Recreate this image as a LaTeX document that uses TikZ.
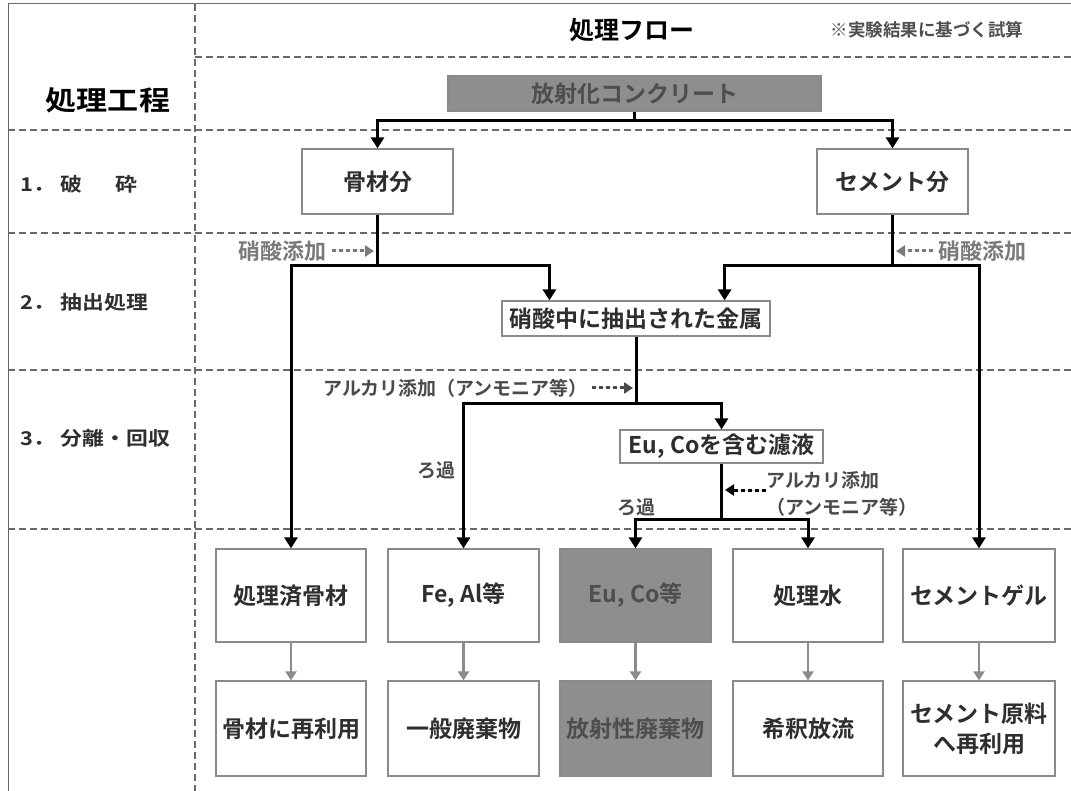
\documentclass[tikz,border=0pt]{standalone}
\usepackage{fontspec}
\setmainfont{Noto Sans CJK JP}[BoldFont={Noto Sans CJK JP Bold}]
\newfontfamily\widefont{Noto Sans CJK JP Bold}[FakeStretch=1.15]
\usetikzlibrary{arrows.meta,calc}
\definecolor{boxgray}{HTML}{8E8E8E}
\definecolor{boxborder}{HTML}{8A8A8A}
\definecolor{textdark}{HTML}{2E2E2E}
\definecolor{graytext}{HTML}{4E4E4E}
\definecolor{arrowgray}{HTML}{8C8C8C}
\definecolor{sepgray}{HTML}{6A6A6A}
\definecolor{labgray}{HTML}{7A7A7A}
\definecolor{labdark}{HTML}{4A4A4A}
\begin{document}
\begin{tikzpicture}[x=1pt,y=-1pt,
  box/.style={draw=boxborder, line width=1.2pt, fill=white, inner sep=0pt, text=textdark,
    font=\bfseries\fontsize{23}{28}\selectfont, align=center},
  graybox/.style={box, fill=boxgray, text=graytext},
  conn/.style={draw=black, line width=3pt, line join=miter},
  arr/.style={conn, -{Triangle[length=11pt,width=13pt]}},
  garr/.style={draw=arrowgray, line width=2.2pt, -{Triangle[length=9pt,width=11pt]}},
  dotarr/.style={line width=3pt, dash pattern=on 4pt off 3pt, -{Triangle[length=9pt,width=11pt]}},
  sepline/.style={draw=sepgray, line width=1.2pt, dash pattern=on 7pt off 4pt},
  rowlab/.style={anchor=west, inner sep=0pt, text=textdark, font=\widefont\fontsize{19}{23}\selectfont},
  note/.style={inner sep=0pt, font=\bfseries\fontsize{19}{23}\selectfont, align=left}
]
\useasboundingbox (0,0) rectangle (1071,791);
\fill[white] (0,0) rectangle (1071,791);

% frame and separators
\draw[draw=sepgray, line width=1pt] (8,791) -- (8,4) -- (1071,4);
\draw[sepline] (195,4) -- (195,791);
\draw[sepline] (195,57) -- (1071,57);
\draw[sepline] (8,130) -- (1071,130);
\draw[sepline] (8,233) -- (1071,233);
\draw[sepline] (8,370) -- (1071,370);
\draw[sepline] (8,529) -- (1071,529);

% headers
\node[inner sep=0pt, text=black, font=\widefont\fontsize{27}{31}\selectfont] (hproc) at (108,100) {処理工程};
\node[inner sep=0pt, text=black, font=\bfseries\fontsize{25}{30}\selectfont] (hflow) at (632,30) {処理フロー};
\node[inner sep=0pt, text=graytext, font=\bfseries\fontsize{17.5}{21}\selectfont] (hnote) at (927,30) {※実験結果に基づく試算};

% row labels
\node[rowlab] (r1lab) at (20,184) {1．\hspace{6pt}破\hspace{33pt}砕};
\node[rowlab] (r2lab) at (20,302) {2．\hspace{6pt}抽出処理};
\node[rowlab] (r3lab) at (20,438) {3．\hspace{6pt}分離・回収};

% nodes
\node[graybox, minimum width=373, minimum height=35] (src) at (634.5,93.5) {放射化コンクリート};
\node[box, minimum width=151, minimum height=65] (agg) at (377.5,181.5) {骨材分};
\node[box, minimum width=151, minimum height=65] (cem) at (892.5,181.5) {セメント分};
\node[box, minimum width=268, minimum height=35] (metal) at (636,318.5) {硝酸中に抽出された金属};
\node[box, minimum width=203, minimum height=33] (filt) at (721.5,446.5) {Eu, Coを含む濾液};

\node[box, minimum width=150, minimum height=93] (b1) at (291,595.5) {処理済骨材};
\node[box, minimum width=151, minimum height=93] (b2) at (463.5,595.5) {Fe, Al等};
\node[graybox, minimum width=151, minimum height=93] (b3) at (635.5,595.5) {Eu, Co等};
\node[box, minimum width=150, minimum height=93] (b4) at (808,595.5) {処理水};
\node[box, minimum width=152, minimum height=93] (b5) at (979,595.5) {セメントゲル};

\node[box, minimum width=150, minimum height=95] (c1) at (291,728.5) {骨材に再利用};
\node[box, minimum width=151, minimum height=95] (c2) at (463.5,728.5) {一般廃棄物};
\node[graybox, minimum width=151, minimum height=95] (c3) at (635.5,728.5) {放射性廃棄物};
\node[box, minimum width=150, minimum height=95] (c4) at (808,728.5) {希釈放流};
\node[box, minimum width=152, minimum height=95, font=\bfseries\fontsize{23}{30}\selectfont] (c5) at (979,728.5) {セメント原料\\へ再利用};

% main connectors
\coordinate (j0) at (634.5,121);
\draw[conn] (src.south) -- (j0);
\draw[arr] (j0) -| (agg.north);
\draw[arr] (j0) -| (cem.north);

\coordinate (j1) at (377.5,266);
\draw[conn] (agg.south) -- (j1);
\draw[arr] (j1) -| (b1.north);
\draw[arr] (j1) -| ([xshift=48pt]metal.north west);

\coordinate (j2) at (892.5,266);
\draw[conn] (cem.south) -- (j2);
\draw[arr] (j2) -| ([xshift=-46pt]metal.north east);
\draw[arr] (j2) -| (b5.north);

\coordinate (j3) at (636,404);
\draw[conn] (metal.south) -- (j3);
\draw[arr] (j3) -| (b2.north);
\draw[arr] (j3) -| (filt.north);

\coordinate (j4) at (721.5,519);
\draw[conn] (filt.south) -- (j4);
\draw[arr] (j4) -| (b3.north);
\draw[arr] (j4) -| (b4.north);

% gray arrows
\foreach \i in {1,...,5} { \draw[garr] (b\i.south) -- (c\i.north); }

% additive labels
\node[note, anchor=east, text=labgray, font=\bfseries\fontsize{22}{26}\selectfont] (add1) at (327,251) {硝酸添加};
\coordinate (add1t) at (374,251);
\draw[dotarr, draw=labgray, fill=labgray] ([xshift=5pt]add1.east) -- (add1t);

\node[note, anchor=west, text=labgray, font=\bfseries\fontsize{22}{26}\selectfont] (add2) at (938,251) {硝酸添加};
\coordinate (add2t) at (896,251);
\draw[dotarr, draw=labgray, fill=labgray] ([xshift=-5pt]add2.west) -- (add2t);

\node[note, anchor=east, text=labdark] (alk1) at (588,388) {アルカリ添加（アンモニア等）};
\coordinate (alk1t) at (633,388);
\draw[dotarr, draw=labdark, fill=labdark] ([xshift=4pt]alk1.east) -- (alk1t);

\node[note, text=labdark] (filt1) at (436,470) {ろ過};

\node[note, anchor=west, text=labdark, font=\bfseries\fontsize{19}{27}\selectfont] (alk2) at (766,494) {アルカリ添加\\（アンモニア等）};
\coordinate (alk2t) at (725,490);
\draw[dotarr, draw=black, fill=black] ([yshift=4pt]alk2.west) -- (alk2t);

\node[note, text=labdark] (filt2) at (636,507) {ろ過};
\end{tikzpicture}
\end{document}
